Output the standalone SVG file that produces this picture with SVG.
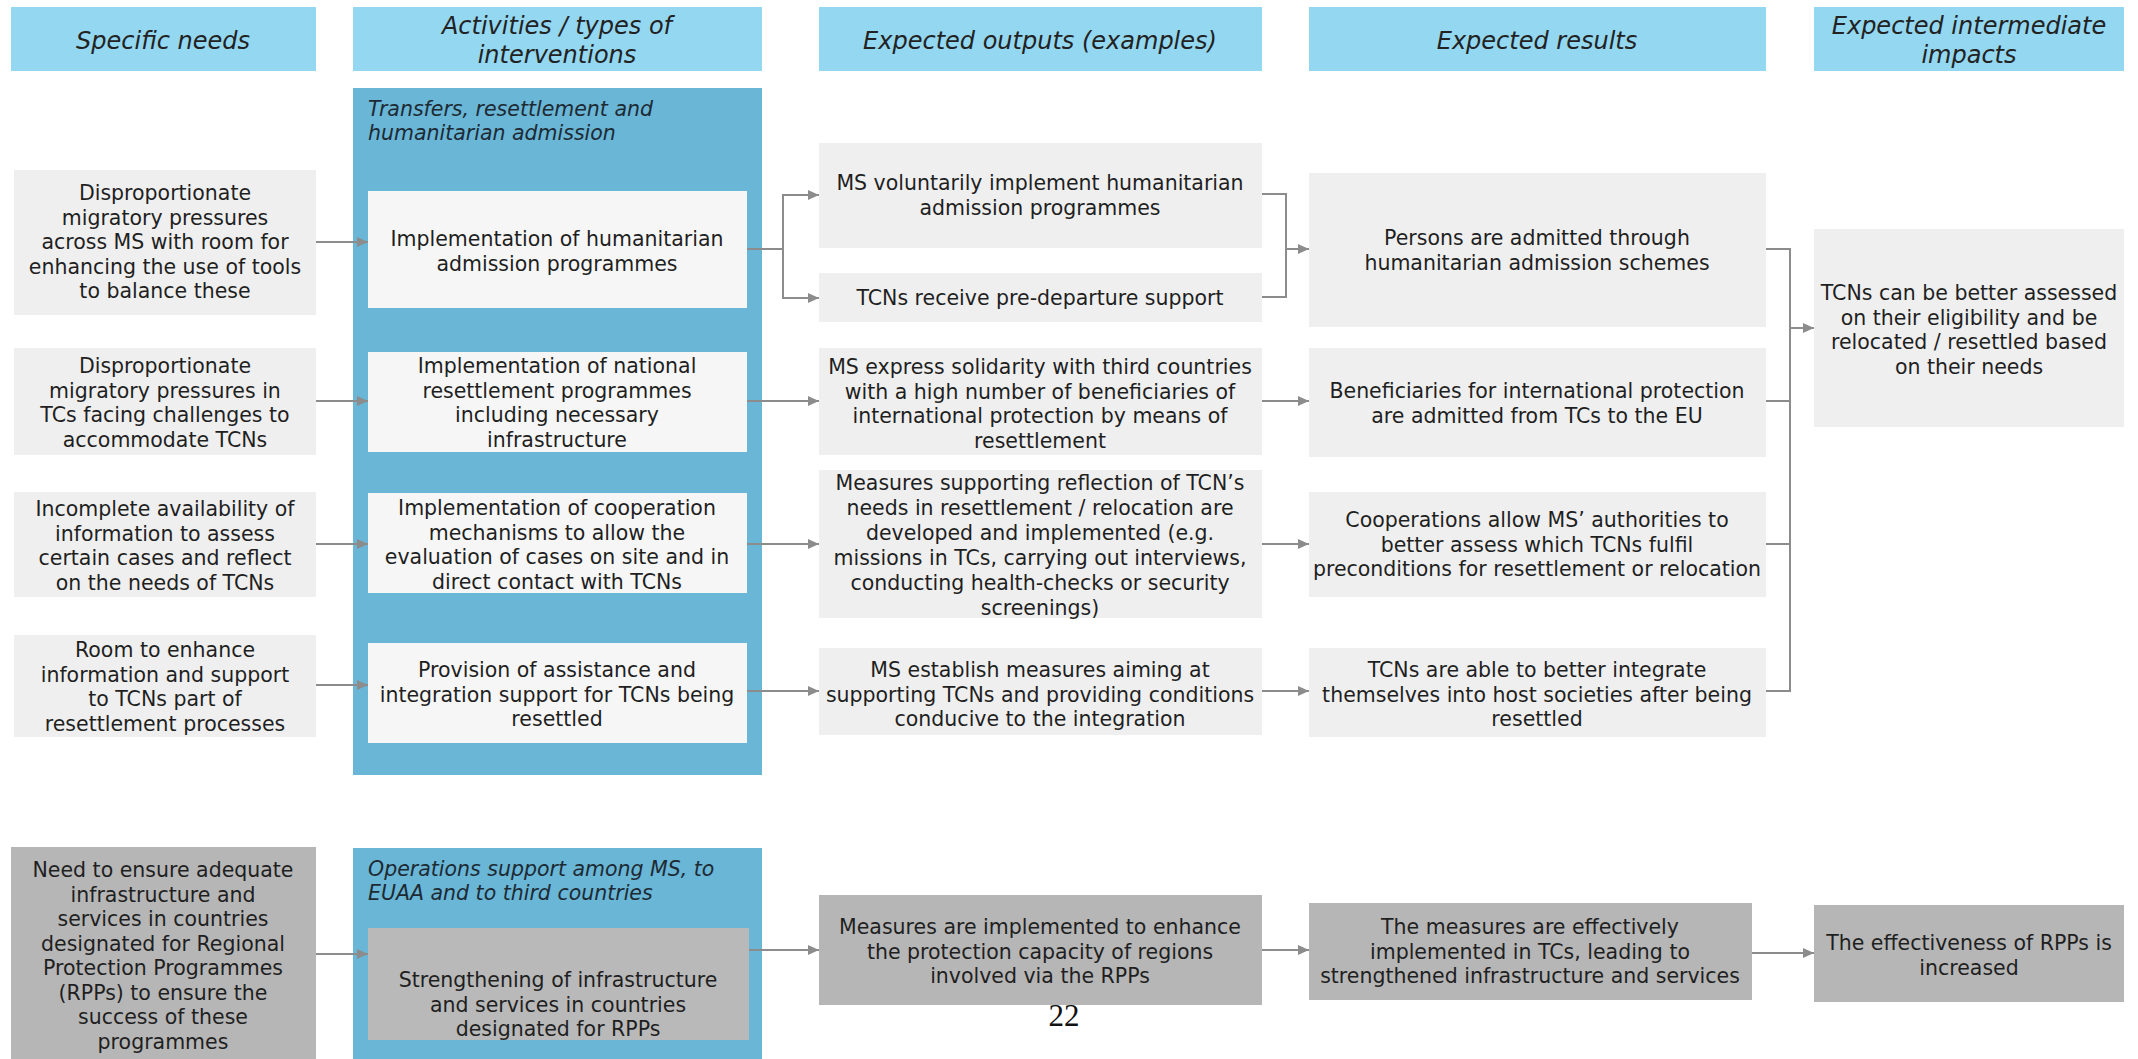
<svg xmlns="http://www.w3.org/2000/svg" width="2138" height="1059" viewBox="0 0 2138 1059">
<style>
.hdr{fill:#93d7f1}
.hdrt{font-family:"DejaVu Sans",Verdana,sans-serif;font-style:italic;font-size:24px;fill:#222;text-anchor:middle}
.panel{fill:#69b6d7}
.pt{font-family:"DejaVu Sans",Verdana,sans-serif;font-style:italic;font-size:20.5px;fill:#1e2a33}
.lb{fill:#efefef}
.wb{fill:#f6f6f6}
.db{fill:#b6b6b6}
.t{font-family:"DejaVu Sans",Verdana,sans-serif;font-size:20.5px;fill:#1f1f1f;text-anchor:middle}
.c{stroke:#8c8c8c;stroke-width:2;fill:none}
.pg{font-family:"Liberation Serif","Times New Roman",serif;font-size:31px;fill:#111;text-anchor:middle}
</style>
<defs>
<marker id="ah" markerUnits="userSpaceOnUse" markerWidth="11" markerHeight="10" refX="11" refY="5" orient="auto">
<path d="M0,0 L11,5 L0,10 z" fill="#8c8c8c"/>
</marker>
</defs>
<rect width="2138" height="1059" fill="#ffffff"/>

<g id="headers">
<g id="h-needs"><rect class="hdr" x="11" y="7" width="305" height="64"/><text class="hdrt" x="163" y="49">Specific needs</text></g>
<g id="h-activities"><rect class="hdr" x="353" y="7" width="409" height="64"/><text class="hdrt" x="557" y="34">Activities / types of</text><text class="hdrt" x="557" y="63">interventions</text></g>
<g id="h-outputs"><rect class="hdr" x="819" y="7" width="443" height="64"/><text class="hdrt" x="1040" y="49">Expected outputs (examples)</text></g>
<g id="h-results"><rect class="hdr" x="1309" y="7" width="457" height="64"/><text class="hdrt" x="1537" y="49">Expected results</text></g>
<g id="h-impacts"><rect class="hdr" x="1814" y="7" width="310" height="64"/><text class="hdrt" x="1969" y="34">Expected intermediate</text><text class="hdrt" x="1969" y="63">impacts</text></g>
</g>

<g id="panel-transfers"><rect class="panel" x="353" y="88" width="409" height="687"/><text class="pt" x="368" y="116">Transfers, resettlement and</text><text class="pt" x="368" y="140">humanitarian admission</text></g>
<g id="panel-operations"><rect class="panel" x="353" y="848" width="409" height="211"/><text class="pt" x="368" y="876">Operations support among MS, to</text><text class="pt" x="368" y="900">EUAA and to third countries</text></g>

<g id="need1"><rect class="lb" x="14" y="170" width="302" height="145"/>
<text class="t" x="165" y="200">Disproportionate</text><text class="t" x="165" y="224.5">migratory pressures</text><text class="t" x="165" y="249">across MS with room for</text><text class="t" x="165" y="273.5">enhancing the use of tools</text><text class="t" x="165" y="298">to balance these</text></g>
<g id="need2"><rect class="lb" x="14" y="348" width="302" height="107"/>
<text class="t" x="165" y="373">Disproportionate</text><text class="t" x="165" y="397.5">migratory pressures in</text><text class="t" x="165" y="422">TCs facing challenges to</text><text class="t" x="165" y="446.5">accommodate TCNs</text></g>
<g id="need3"><rect class="lb" x="14" y="492" width="302" height="105"/>
<text class="t" x="165" y="516">Incomplete availability of</text><text class="t" x="165" y="540.5">information to assess</text><text class="t" x="165" y="565">certain cases and reflect</text><text class="t" x="165" y="589.5">on the needs of TCNs</text></g>
<g id="need4"><rect class="lb" x="14" y="635" width="302" height="102"/>
<text class="t" x="165" y="657">Room to enhance</text><text class="t" x="165" y="681.5">information and support</text><text class="t" x="165" y="706">to TCNs part of</text><text class="t" x="165" y="730.5">resettlement processes</text></g>
<g id="need5"><rect class="db" x="11" y="847" width="305" height="212"/>
<text class="t" x="163" y="877">Need to ensure adequate</text><text class="t" x="163" y="901.5">infrastructure and</text><text class="t" x="163" y="926">services in countries</text><text class="t" x="163" y="950.5">designated for Regional</text><text class="t" x="163" y="975">Protection Programmes</text><text class="t" x="163" y="999.5">(RPPs) to ensure the</text><text class="t" x="163" y="1024">success of these</text><text class="t" x="163" y="1048.5">programmes</text></g>

<g id="act1"><rect class="wb" x="368" y="191" width="379" height="117"/>
<text class="t" x="557" y="246">Implementation of humanitarian</text><text class="t" x="557" y="270.5">admission programmes</text></g>
<g id="act2"><rect class="wb" x="368" y="352" width="379" height="100"/>
<text class="t" x="557" y="373">Implementation of national</text><text class="t" x="557" y="397.5">resettlement programmes</text><text class="t" x="557" y="422">including necessary</text><text class="t" x="557" y="446.5">infrastructure</text></g>
<g id="act3"><rect class="wb" x="368" y="493" width="379" height="100"/>
<text class="t" x="557" y="515">Implementation of cooperation</text><text class="t" x="557" y="539.5">mechanisms to allow the</text><text class="t" x="557" y="564">evaluation of cases on site and in</text><text class="t" x="557" y="588.5">direct contact with TCNs</text></g>
<g id="act4"><rect class="wb" x="368" y="643" width="379" height="100"/>
<text class="t" x="557" y="677">Provision of assistance and</text><text class="t" x="557" y="701.5">integration support for TCNs being</text><text class="t" x="557" y="726">resettled</text></g>
<g id="act5"><rect fill="#b9b9b9" x="368" y="928" width="381" height="112"/>
<text class="t" x="558" y="987">Strengthening of infrastructure</text><text class="t" x="558" y="1011.5">and services in countries</text><text class="t" x="558" y="1036">designated for RPPs</text></g>

<g id="out1"><rect class="lb" x="819" y="143" width="443" height="105"/>
<text class="t" x="1040" y="190">MS voluntarily implement humanitarian</text><text class="t" x="1040" y="215">admission programmes</text></g>
<g id="out2"><rect class="lb" x="819" y="273" width="443" height="49"/>
<text class="t" x="1040" y="305">TCNs receive pre-departure support</text></g>
<g id="out3"><rect class="lb" x="819" y="348" width="443" height="107"/>
<text class="t" x="1040" y="374">MS express solidarity with third countries</text><text class="t" x="1040" y="398.5">with a high number of beneficiaries of</text><text class="t" x="1040" y="423">international protection by means of</text><text class="t" x="1040" y="447.5">resettlement</text></g>
<g id="out4"><rect class="lb" x="819" y="470" width="443" height="148"/>
<text class="t" x="1040" y="490">Measures supporting reflection of TCN’s</text><text class="t" x="1040" y="515">needs in resettlement / relocation are</text><text class="t" x="1040" y="540">developed and implemented (e.g.</text><text class="t" x="1040" y="565">missions in TCs, carrying out interviews,</text><text class="t" x="1040" y="590">conducting health-checks or security</text><text class="t" x="1040" y="615">screenings)</text></g>
<g id="out5"><rect class="lb" x="819" y="648" width="443" height="87"/>
<text class="t" x="1040" y="677">MS establish measures aiming at</text><text class="t" x="1040" y="701.5">supporting TCNs and providing conditions</text><text class="t" x="1040" y="726">conducive to the integration</text></g>
<g id="out6"><rect class="db" x="819" y="895" width="443" height="110"/>
<text class="t" x="1040" y="934">Measures are implemented to enhance</text><text class="t" x="1040" y="958.5">the protection capacity of regions</text><text class="t" x="1040" y="983">involved via the RPPs</text></g>

<g id="res1"><rect class="lb" x="1309" y="173" width="457" height="154"/>
<text class="t" x="1537" y="245">Persons are admitted through</text><text class="t" x="1537" y="269.5">humanitarian admission schemes</text></g>
<g id="res2"><rect class="lb" x="1309" y="348" width="457" height="109"/>
<text class="t" x="1537" y="398">Beneficiaries for international protection</text><text class="t" x="1537" y="422.5">are admitted from TCs to the EU</text></g>
<g id="res3"><rect class="lb" x="1309" y="492" width="457" height="105"/>
<text class="t" x="1537" y="527">Cooperations allow MS’ authorities to</text><text class="t" x="1537" y="551.5">better assess which TCNs fulfil</text><text class="t" x="1537" y="576">preconditions for resettlement or relocation</text></g>
<g id="res4"><rect class="lb" x="1309" y="648" width="457" height="89"/>
<text class="t" x="1537" y="677">TCNs are able to better integrate</text><text class="t" x="1537" y="701.5">themselves into host societies after being</text><text class="t" x="1537" y="726">resettled</text></g>
<g id="res5"><rect class="db" x="1309" y="903" width="443" height="97"/>
<text class="t" x="1530" y="934">The measures are effectively</text><text class="t" x="1530" y="958.5">implemented in TCs, leading to</text><text class="t" x="1530" y="983">strengthened infrastructure and services</text></g>

<g id="imp1"><rect class="lb" x="1814" y="229" width="310" height="198"/>
<text class="t" x="1969" y="300">TCNs can be better assessed</text><text class="t" x="1969" y="324.5">on their eligibility and be</text><text class="t" x="1969" y="349">relocated / resettled based</text><text class="t" x="1969" y="373.5">on their needs</text></g>
<g id="imp2"><rect class="db" x="1814" y="905" width="310" height="97"/>
<text class="t" x="1969" y="950">The effectiveness of RPPs is</text><text class="t" x="1969" y="974.5">increased</text></g>

<g id="connectors">
<path class="c" d="M316,242 H368" marker-end="url(#ah)"/>
<path class="c" d="M316,401 H368" marker-end="url(#ah)"/>
<path class="c" d="M316,544 H368" marker-end="url(#ah)"/>
<path class="c" d="M316,685 H368" marker-end="url(#ah)"/>
<path class="c" d="M316,954 H368" marker-end="url(#ah)"/>
<path class="c" d="M747,249 H783 V195 H819" marker-end="url(#ah)"/>
<path class="c" d="M783,249 V298 H819" marker-end="url(#ah)"/>
<path class="c" d="M747,401 H819" marker-end="url(#ah)"/>
<path class="c" d="M747,544 H819" marker-end="url(#ah)"/>
<path class="c" d="M747,691 H819" marker-end="url(#ah)"/>
<path class="c" d="M749,950 H819" marker-end="url(#ah)"/>
<path class="c" d="M1262,194 H1286 V297 H1262"/>
<path class="c" d="M1286,249 H1309" marker-end="url(#ah)"/>
<path class="c" d="M1262,401 H1309" marker-end="url(#ah)"/>
<path class="c" d="M1262,544 H1309" marker-end="url(#ah)"/>
<path class="c" d="M1262,691 H1309" marker-end="url(#ah)"/>
<path class="c" d="M1262,950 H1309" marker-end="url(#ah)"/>
<path class="c" d="M1766,249 H1790 V691 H1766"/>
<path class="c" d="M1766,401 H1790"/>
<path class="c" d="M1766,544 H1790"/>
<path class="c" d="M1790,328 H1814" marker-end="url(#ah)"/>
<path class="c" d="M1752,953 H1814" marker-end="url(#ah)"/>
</g>

<text class="pg" x="1064" y="1026">22</text>
</svg>
